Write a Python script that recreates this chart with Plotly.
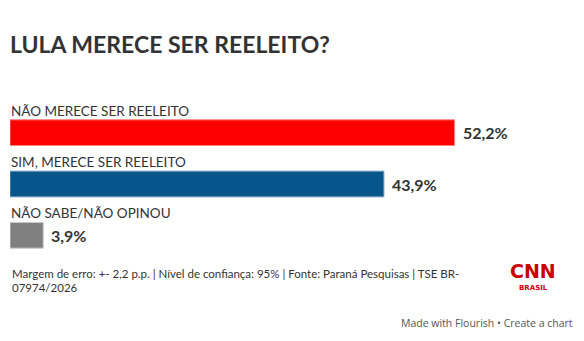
import plotly.graph_objects as go

# Survey results
categories = ["NÃO MERECE SER REELEITO", "SIM, MERECE SER REELEITO", "NÃO SABE/NÃO OPINOU"]
values = [52.2, 43.9, 3.9]
value_labels = ["52,2%", "43,9%", "3,9%"]
bar_colors = ["#ff0000", "#07568b", "#808080"]
border_colors = ["#ff7f7f", "#6d9cc0", "#c8c8c8"]

title = "LULA MERECE SER REELEITO?"
footer_lines = [
    "Margem de erro: +- 2,2 p.p. | Nível de confiança: 95% | Fonte: Paraná Pesquisas | TSE BR-",
    "07974/2026",
]
credit = "Made with Flourish • Create a chart"

W, H = 584, 341
ML, MR, MT, MB = 10, 63, 107, 80
PW, PH = W - ML - MR, H - MT - MB

FONT = "Lato"
TEXT = "#333333"


def px(x, y):
    """Convert page pixel coordinates to paper coordinates."""
    return (x - ML) / PW, (H - MB - y) / PH


positions = list(range(len(categories)))

fig = go.Figure(
    go.Bar(
        x=values,
        y=positions,
        orientation="h",
        width=0.5,
        marker=dict(color=bar_colors, line=dict(color=border_colors, width=1)),
        hoverinfo="skip",
    )
)

annotations = []
for pos, cat, val, lab in zip(positions, categories, values, value_labels):
    annotations.append(dict(
        x=0, y=pos, xref="x", yref="y", text=cat, showarrow=False,
        xanchor="left", yanchor="middle", yshift=22, xshift=-1,
        font=dict(family=FONT, size=13.5, color=TEXT),
    ))
    annotations.append(dict(
        x=val, y=pos, xref="x", yref="y", text=f"<b>{lab}</b>", showarrow=False,
        xanchor="left", yanchor="middle", xshift=6,
        font=dict(family=FONT, size=16, color=TEXT),
    ))

for i, line in enumerate(footer_lines):
    fx, fy = px(10, 273 + i * 14)
    annotations.append(dict(
        x=fx, y=fy, xref="paper", yref="paper", text=line, showarrow=False,
        xanchor="left", yanchor="middle",
        font=dict(family=FONT, size=11.5, color=TEXT),
    ))

lx, ly = px(533, 271)
annotations.append(dict(
    x=lx, y=ly, xref="paper", yref="paper", text="<b>CNN</b>", showarrow=False,
    xanchor="center", yanchor="middle",
    font=dict(family="DejaVu Sans", size=19, color="#cc0000"),
))
bx, by = px(533, 288)
annotations.append(dict(
    x=bx, y=by, xref="paper", yref="paper", text="<b>BRASIL</b>", showarrow=False,
    xanchor="center", yanchor="middle",
    font=dict(family="DejaVu Sans", size=7, color="#cc0000"),
))

cx, cy = px(575, 323)
annotations.append(dict(
    x=cx, y=cy, xref="paper", yref="paper", text=credit, showarrow=False,
    xanchor="right", yanchor="middle",
    font=dict(family="Open Sans", size=10.5, color="#555555"),
))

fig.update_layout(
    width=W, height=H,
    margin=dict(l=ML, r=MR, t=MT, b=MB),
    paper_bgcolor="white", plot_bgcolor="white",
    showlegend=False,
    title=dict(
        text=f"<b>{title}</b>", x=10 / W, y=1 - 45 / H,
        xref="container", yref="container", xanchor="left", yanchor="middle",
        font=dict(family=FONT, size=23, color=TEXT),
    ),
    xaxis=dict(range=[0, 60], visible=False, fixedrange=True),
    yaxis=dict(range=[2.5, -0.5], visible=False, fixedrange=True),
    annotations=annotations,
)

fig.write_html("out.html")
